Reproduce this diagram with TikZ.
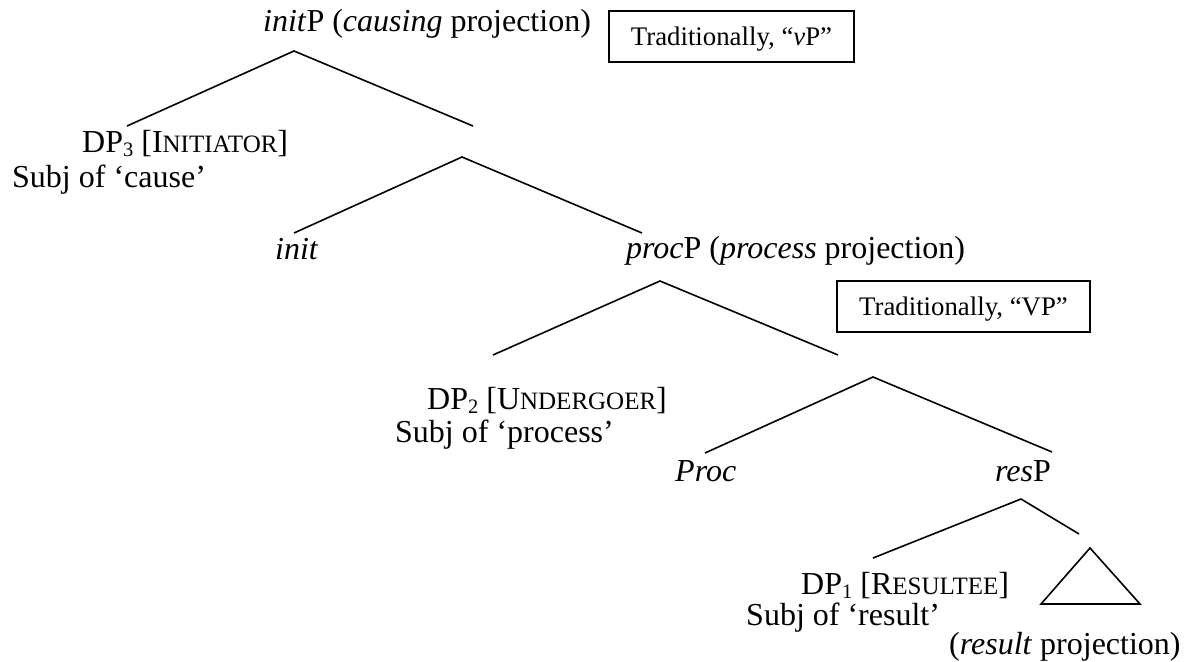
\documentclass[tikz,border=0pt]{standalone}
\usepackage{fontspec}
\setmainfont{Liberation Serif}
% faked small capitals and lowered index numbers
\newcommand\scap[1]{{\fontsize{25}{25}\selectfont #1}}
\newcommand\subn[1]{\raisebox{-0.14em}{\fontsize{20.5}{20.5}\selectfont #1}}
\begin{document}
\begin{tikzpicture}[x=1pt,y=-1pt,
  lbl/.style={anchor=base west, inner sep=0pt, font=\fontsize{32}{36}\selectfont},
  note/.style={draw, line width=1.5pt, inner sep=0pt, text height=18.5pt, text depth=0pt,
    font=\fontsize{26.8}{30}\selectfont},
  branch/.style={line width=1.6pt, line join=miter}]
\useasboundingbox (0,0) rectangle (1193,661);

% ---- labels ----
\node[lbl] (initP) at (263,32) {\textit{init}P (\textit{causing} projection)};
\node[lbl] (dp3) at (82,152) {DP\subn{3} [I\scap{NITIATOR}]};
\node[lbl] (subj3) at (12,187) {Subj of ‘cause’};
\node[lbl] (init) at (275,259) {\textit{init}};
\node[lbl] (procP) at (626,258) {\textit{proc}P (\textit{process} projection)};
\node[lbl] (dp2) at (427,409) {DP\subn{2} [U\scap{NDERGOER}]};
\node[lbl] (subj2) at (395,442) {Subj of ‘process’};
\node[lbl] (proc) at (675,481) {\textit{Proc}};
\node[lbl] (resP) at (995,481) {\textit{res}P};
\node[lbl] (dp1) at (801,594) {DP\subn{1} [R\scap{ESULTEE}]};
\node[lbl] (subj1) at (746,625) {Subj of ‘result’};
\node[lbl] (resproj) at (949,654) {(\textit{result} projection)};

% ---- boxed notes ----
\node[note, minimum width=245pt, minimum height=51pt] (vpnote) at (731.5,36.5) {Traditionally, “\textit{v}P”};
\node[note, minimum width=253pt, minimum height=51pt] (VPnote) at (963.5,306.5) {Traditionally, “VP”};

% ---- branching points ----
\coordinate (a1) at (294,51);   \coordinate (a1l) at (127,126);  \coordinate (a1r) at (473,126);
\coordinate (a2) at (462,157);  \coordinate (a2l) at (294,233);  \coordinate (a2r) at (642,233);
\coordinate (a3) at (660,281);  \coordinate (a3l) at (493,355);  \coordinate (a3r) at (838,355);
\coordinate (a4) at (873,377);  \coordinate (a4l) at (705,453);  \coordinate (a4r) at (1052,452);
\coordinate (a5) at (1021,499); \coordinate (a5l) at (873,558);  \coordinate (a5r) at (1079,534);
\coordinate (t1) at (1090,548); \coordinate (t2) at (1041,604);  \coordinate (t3) at (1140,604);

% ---- branches ----
\draw[branch] (a1l) -- (a1) -- (a1r);
\draw[branch] (a2l) -- (a2) -- (a2r);
\draw[branch] (a3l) -- (a3) -- (a3r);
\draw[branch] (a4l) -- (a4) -- (a4r);
\draw[branch] (a5l) -- (a5) -- (a5r);
\draw[branch] (t1) -- (t2) -- (t3) -- cycle;
\end{tikzpicture}
\end{document}
